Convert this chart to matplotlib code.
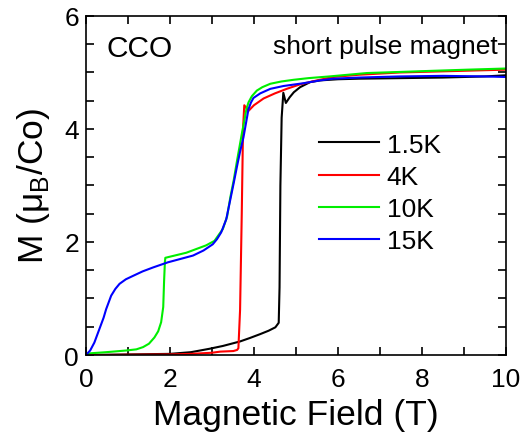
import matplotlib
matplotlib.use("Agg")
import matplotlib.pyplot as plt
from matplotlib.ticker import MultipleLocator

plt.rcParams['font.family'] = ['Liberation Sans', 'DejaVu Sans']

# 1.5 K
x_15 = [0, 0.5, 1.0, 1.5, 2.0, 2.5, 2.94, 3.26, 3.67, 3.9, 4.15, 4.35, 4.51, 4.59, 4.61, 4.63, 4.66, 4.70, 4.76, 4.85, 4.95, 5.1, 5.34, 5.58, 6.0, 6.5, 7.5, 8.5, 9.5, 10.0]
m_15 = [0, 0.005, 0.01, 0.015, 0.02, 0.05, 0.11, 0.16, 0.24, 0.30, 0.37, 0.43, 0.49, 0.57, 1.2, 3.0, 4.2, 4.64, 4.46, 4.56, 4.65, 4.74, 4.83, 4.86, 4.88, 4.89, 4.90, 4.91, 4.93, 4.95]
# 4 K
x_4 = [0, 0.5, 1.0, 2.0, 2.5, 3.0, 3.2, 3.51, 3.6, 3.63, 3.67, 3.71, 3.74, 3.77, 3.87, 4.0, 4.23, 4.5, 4.78, 5.1, 5.5, 5.89, 6.5, 7.48, 8.5, 10.0]
m_4 = [0, 0.0, 0.005, 0.01, 0.02, 0.04, 0.06, 0.07, 0.09, 0.12, 0.8, 2.5, 4.0, 4.42, 4.32, 4.42, 4.54, 4.63, 4.71, 4.79, 4.86, 4.92, 4.96, 5.0, 5.02, 5.05]
# 10 K
x_10 = [0, 0.1, 0.48, 0.96, 1.2, 1.36, 1.5, 1.63, 1.72, 1.79, 1.84, 1.86, 1.88, 1.89, 2.0, 2.39, 2.86, 3.06, 3.26, 3.36, 3.44, 3.52, 3.6, 3.66, 3.72, 3.78, 3.82, 3.87, 3.95, 4.07, 4.2, 4.39, 4.65, 4.94, 5.3, 5.8, 6.69, 7.5, 8.28, 9.1, 10.0]
m_10 = [0, 0.03, 0.05, 0.08, 0.1, 0.14, 0.2, 0.31, 0.42, 0.58, 0.85, 1.3, 1.65, 1.72, 1.74, 1.81, 1.94, 2.02, 2.23, 2.45, 2.8, 3.1, 3.45, 3.7, 3.95, 4.18, 4.35, 4.47, 4.58, 4.68, 4.74, 4.80, 4.84, 4.87, 4.90, 4.93, 4.99, 5.01, 5.03, 5.05, 5.07]
# 15 K
x_15k = [0, 0.1, 0.2, 0.32, 0.42, 0.48, 0.54, 0.6, 0.7, 0.8, 0.95, 1.12, 1.35, 1.6, 1.95, 2.25, 2.55, 2.8, 3.02, 3.12, 3.22, 3.34, 3.44, 3.52, 3.6, 3.67, 3.75, 3.81, 3.87, 3.93, 3.99, 4.15, 4.39, 4.7, 5.18, 5.58, 5.89, 6.5, 7.48, 8.5, 9.5, 10.0]
m_15k = [0, 0.08, 0.22, 0.46, 0.66, 0.81, 0.93, 1.05, 1.17, 1.26, 1.34, 1.40, 1.48, 1.55, 1.64, 1.70, 1.76, 1.85, 1.96, 2.05, 2.17, 2.4, 2.76, 3.05, 3.35, 3.6, 3.85, 4.1, 4.35, 4.47, 4.55, 4.63, 4.71, 4.76, 4.81, 4.86, 4.89, 4.91, 4.93, 4.94, 4.93, 4.92]

series = [("1.5K", x_15, m_15, "black"),
          ("4K", x_4, m_4, "#ff0000"),
          ("10K", x_10, m_10, "#00ee00"),
          ("15K", x_15k, m_15k, "#0000ff")]

fig = plt.figure(figsize=(5.21, 4.35), dpi=100)
ax = fig.add_axes([0.165, 0.1816, 0.806, 0.7794])

for label, xs, ms, c in series:
    ax.plot(xs, ms, color=c, lw=1.5, label=label)

ax.set_xlim(0, 10)
ax.set_ylim(0, 6)
ax.xaxis.set_major_locator(MultipleLocator(2))
ax.xaxis.set_minor_locator(MultipleLocator(1))
ax.yaxis.set_major_locator(MultipleLocator(2))
ax.yaxis.set_minor_locator(MultipleLocator(0.5))
ax.tick_params(which='both', direction='in', top=True, right=True, width=1.2, labelsize=19, pad=5)
ax.tick_params(axis='x', which='both', pad=8.5)
ax.tick_params(which='major', length=6)
ax.tick_params(which='minor', length=6)
for s in ax.spines.values():
    s.set_linewidth(1.2)

ax.set_xlabel("Magnetic Field (T)", fontsize=25.5, labelpad=5)
ax.set_ylabel("M (μ$_\\mathregular{B}$/Co)", fontsize=25.5, labelpad=9)

ax.text(0.05, 0.905, "CCO", transform=ax.transAxes, fontsize=21.5, va='center', ha='left')
ax.text(0.98, 0.91, "short pulse magnet", transform=ax.transAxes, fontsize=19, va='center', ha='right')

leg = ax.legend(loc='upper left', bbox_to_anchor=(0.555, 0.656), frameon=False, fontsize=19,
                handlelength=2.27, handletextpad=0.3, labelspacing=0.31, borderpad=0, borderaxespad=0)

fig.savefig("out.png", dpi=100)
